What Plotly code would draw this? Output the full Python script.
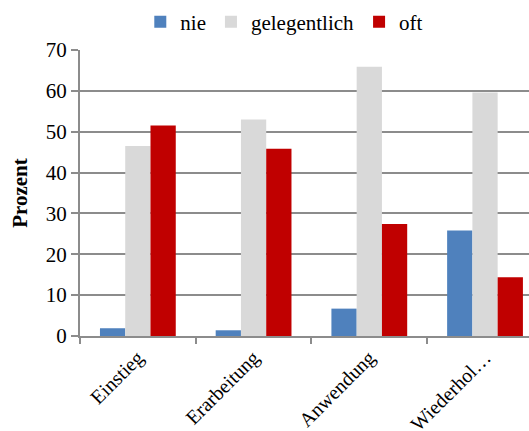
import plotly.graph_objects as go

categories = ["Einstieg", "Erarbeitung", "Anwendung", "Wiederhol…"]
nie = [1.9, 1.4, 6.7, 25.8]
gelegentlich = [46.5, 53.0, 65.9, 59.6]
oft = [51.5, 45.8, 27.4, 14.4]

series = [
    ("nie", nie, "#4F81BD"),
    ("gelegentlich", gelegentlich, "#D9D9D9"),
    ("oft", oft, "#C00000"),
]

fig = go.Figure()
for name, vals, color in series:
    fig.add_trace(go.Bar(name=name, x=categories, y=vals, marker_color=color,
                         marker_line_width=0))

serif = "Liberation Serif"
axis_gray = "#8C8C8C"
txt = dict(family=serif, size=21, color="black")
xtxt = dict(family=serif, size=20, color="black")

fig.update_layout(
    template="none",
    width=529, height=431,
    margin=dict(l=80, r=0, t=50, b=95, autoexpand=False),
    paper_bgcolor="white", plot_bgcolor="white",
    barmode="group", bargap=0.345, bargroupgap=0,
    font=txt,
    showlegend=True,
    legend=dict(orientation="h", x=0.455, xanchor="center", y=1.026, yanchor="bottom",
                font=txt, itemwidth=30, tracegroupgap=0,
                bgcolor="rgba(0,0,0,0)"),
    xaxis=dict(range=[-0.5, 3.38], showgrid=False, showline=True, automargin=False,
               linecolor=axis_gray, linewidth=2, ticks="outside",
               tickson="boundaries", ticklen=6, tickcolor=axis_gray, tickwidth=2,
               tickangle=-45, tickfont=xtxt),
    yaxis=dict(range=[0, 70], dtick=10, showgrid=True, gridcolor=axis_gray,
               gridwidth=2, showline=True, linecolor=axis_gray, linewidth=2,
               automargin=False,
               ticks="outside", ticklen=7, tickcolor=axis_gray, tickwidth=2,
               zeroline=False, tickfont=txt,
               title=dict(text="<b>Prozent</b>", font=txt, standoff=12)),
)

fig.write_html("out.html")
